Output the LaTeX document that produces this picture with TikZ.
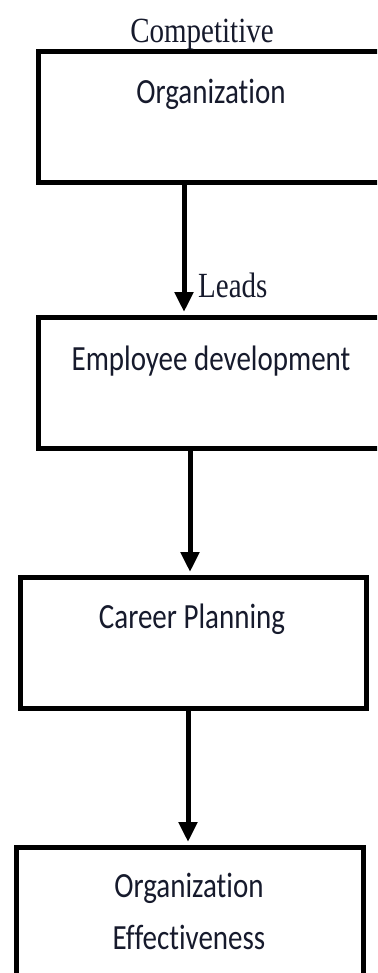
\documentclass[tikz,border=0pt]{standalone}
\usepackage{fontspec}
\usepackage{graphicx}
\newfontfamily\capfont{Liberation Serif}
\newfontfamily\boxfont[Ligatures={NoCommon}]{Carlito}
\usetikzlibrary{arrows.meta}
\definecolor{ink}{RGB}{22,26,44}
\newcommand\vst[1]{\scalebox{1}[1.22]{#1}}
\begin{document}
\begin{tikzpicture}[x=1pt,y=-1pt,
  flowbox/.style={draw=black,line width=5pt,rectangle,inner sep=0pt,minimum height=131pt},
  boxtext/.style={font=\boxfont\fontsize{29}{35}\selectfont,text=ink,anchor=base,inner sep=0pt},
  captext/.style={font=\capfont\fontsize{29}{35}\selectfont,text=ink,inner sep=0pt},
  flowarrow/.style={line width=5pt,-{Triangle[length=20pt,width=18pt]},shorten >=2.5pt}]
\useasboundingbox (0,0) rectangle (377,973);
\clip (0,0) rectangle (377,973);
\node[flowbox,minimum width=382pt] (b1) at (229,117.5) {};
\node[flowbox,minimum width=382pt] (b2) at (229,382.5) {};
\node[flowbox,minimum width=346pt] (b3) at (193,642.5) {};
\node[flowbox,minimum width=347pt] (b4) at (189.5,912.5) {};
\node[captext,anchor=base] (t0) at (202,43) {\vst{Competitive}};
\node[boxtext] (t1) at (211,104) {\vst{Organization}};
\node[captext,anchor=base west] (t5) at (198,298) {\vst{Leads}};
\node[boxtext] (t2) at (211,370) {\vst{Employee development}};
\node[boxtext] (t3) at (192,628) {\vst{Career Planning}};
\node[boxtext] (t4) at (189,897) {\vst{\begin{tabular}[t]{@{}c@{}}Organization\\[8.4pt]Effectiveness\end{tabular}}};
\coordinate (a1) at (184,0);
\coordinate (a2) at (190,0);
\coordinate (a3) at (188,0);
\draw[flowarrow] (b1.south -| a1) -- (b2.north -| a1);
\draw[flowarrow] (b2.south -| a2) -- (b3.north -| a2);
\draw[flowarrow] (b3.south -| a3) -- (b4.north -| a3);
\end{tikzpicture}
\end{document}
